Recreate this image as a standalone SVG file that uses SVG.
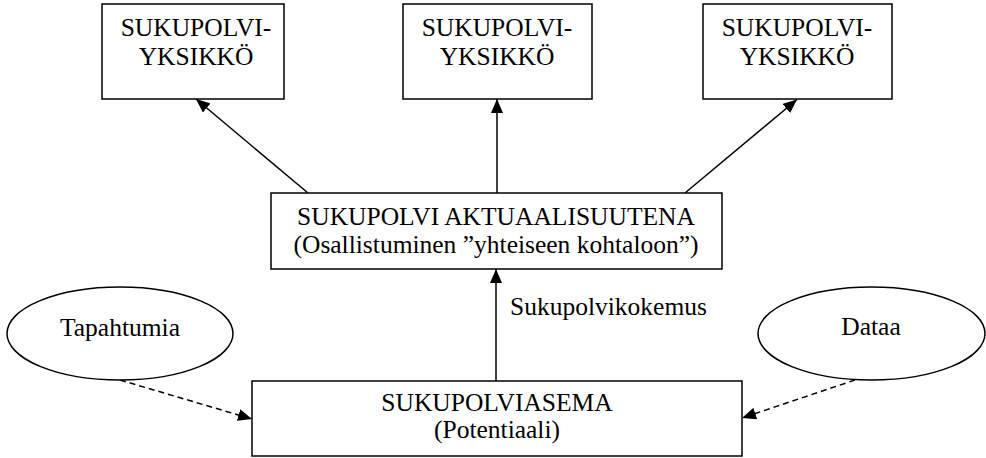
<svg xmlns="http://www.w3.org/2000/svg" width="986" height="458" viewBox="0 0 986 458">
<style>
.box{fill:#fff;stroke:#000;stroke-width:1.5}
.t{font-family:"Liberation Serif","Times New Roman",serif;font-size:25.5px;fill:#000;text-anchor:middle}
.c{stroke:#000;stroke-width:1.5;fill:none}
.d{stroke-dasharray:6,4}
</style>
<defs>
<marker id="ah" markerWidth="14" markerHeight="12" viewBox="0 0 14 12" refX="14" refY="6" orient="auto" markerUnits="userSpaceOnUse">
<path d="M0,0 L14,6 L0,12 z" fill="#000"/>
</marker>
</defs>
<rect width="986" height="458" fill="#fff"/>
<g id="connectors">
<line class="c" x1="308" y1="193" x2="196" y2="99" marker-end="url(#ah)"/>
<line class="c" x1="497" y1="193" x2="497" y2="99" marker-end="url(#ah)"/>
<line class="c" x1="685" y1="193" x2="797" y2="99.5" marker-end="url(#ah)"/>
<line class="c" x1="496" y1="381" x2="496" y2="269" marker-end="url(#ah)"/>
<line class="c d" x1="120" y1="380" x2="252" y2="419" marker-end="url(#ah)"/>
<line class="c d" x1="855" y1="380" x2="742" y2="418" marker-end="url(#ah)"/>
<text class="t" x="510" y="315" style="text-anchor:start">Sukupolvikokemus</text>
</g>
<g id="top1">
<rect class="box" x="102" y="4" width="182" height="95"/>
<text class="t" x="196" y="36">SUKUPOLVI-</text>
<text class="t" x="196" y="65">YKSIKKÖ</text>
</g>
<g id="top2">
<rect class="box" x="403" y="4" width="189" height="95"/>
<text class="t" x="497" y="36">SUKUPOLVI-</text>
<text class="t" x="497" y="65">YKSIKKÖ</text>
</g>
<g id="top3">
<rect class="box" x="703" y="4" width="189" height="95"/>
<text class="t" x="797" y="36">SUKUPOLVI-</text>
<text class="t" x="797" y="65">YKSIKKÖ</text>
</g>
<g id="middle">
<rect class="box" x="271" y="193" width="451" height="76"/>
<text class="t" x="496" y="225">SUKUPOLVI AKTUAALISUUTENA</text>
<text class="t" x="496" y="253">(Osallistuminen ”yhteiseen kohtaloon”)</text>
</g>
<g id="bottom">
<rect class="box" x="252" y="381" width="490" height="75"/>
<text class="t" x="497" y="411">SUKUPOLVIASEMA</text>
<text class="t" x="497" y="438">(Potentiaali)</text>
</g>
<g id="tapahtumia">
<ellipse class="box" cx="120" cy="333.5" rx="113" ry="46.5"/>
<text class="t" x="120" y="336">Tapahtumia</text>
</g>
<g id="dataa">
<ellipse class="box" cx="871.5" cy="333.5" rx="113.5" ry="46.5"/>
<text class="t" x="871" y="335">Dataa</text>
</g>
</svg>
